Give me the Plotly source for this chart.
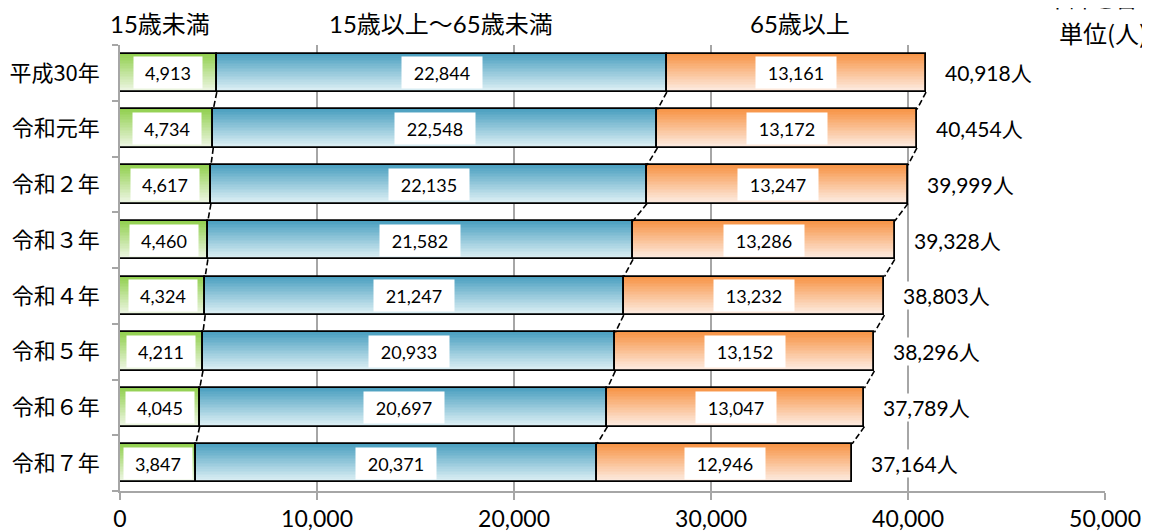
import plotly.graph_objects as go

# ---- data ----
years = ["平成30年", "令和元年", "令和２年", "令和３年", "令和４年", "令和５年", "令和６年", "令和７年"]
under15 = [4913, 4734, 4617, 4460, 4324, 4211, 4045, 3847]
working = [22844, 22548, 22135, 21582, 21247, 20933, 20697, 20371]
over65 = [13161, 13172, 13247, 13286, 13232, 13152, 13047, 12946]
totals = [40918, 40454, 39999, 39328, 38803, 38296, 37789, 37164]
headers = ["15歳未満", "15歳以上～65歳未満", "65歳以上"]
x_ticks = [0, 10000, 20000, 30000, 40000, 50000]

# ---- style ----
NUM_FONT = "Lato, 'Noto Sans CJK JP', sans-serif"
JP_FONT = "'Noto Sans CJK JP', Lato, sans-serif"
GRID = "#A6A6A6"
W = 0.69
N = 24
gradients = [
    ((146, 208, 80), (238, 246, 228)),
    ((75, 160, 192), (222, 240, 245)),
    ((247, 148, 70), (253, 236, 226)),
]

ypos = list(range(len(years)))
series = [under15, working, over65]
bases = []
run = [0] * len(years)
for s in series:
    bases.append(list(run))
    run = [r + v for r, v in zip(run, s)]
cum1 = bases[1]
cum2 = bases[2]
ends = run

def lerp(c1, c2, t):
    return "rgb(%d,%d,%d)" % tuple(round(a + (b - a) * t) for a, b in zip(c1, c2))

fig = go.Figure()

# gradient strips
for s, b, (ctop, cbot) in zip(series, bases, gradients):
    for k in range(N):
        t = k / (N - 1)
        fig.add_trace(go.Bar(
            y=ypos, x=s, base=b, orientation="h",
            offset=-W / 2 + k * W / N, width=W / N * 1.15 if k < N - 1 else W / N,
            marker=dict(color=lerp(ctop, cbot, t), line=dict(width=0)),
            hoverinfo="skip", showlegend=False,
        ))

# outlines
for s, b in zip(series, bases):
    fig.add_trace(go.Bar(
        y=ypos, x=s, base=b, orientation="h", offset=-W / 2, width=W,
        marker=dict(color="rgba(0,0,0,0)", line=dict(color="black", width=1.8)),
        hoverinfo="skip", showlegend=False,
    ))

# series (connector) lines
for bnd in [cum1, cum2, ends]:
    xs, ys = [], []
    for i in range(len(years) - 1):
        xs += [bnd[i], bnd[i + 1], None]
        ys += [i + W / 2, i + 1 - W / 2, None]
    fig.add_trace(go.Scatter(
        x=xs, y=ys, mode="lines",
        line=dict(color="black", width=1.6, dash="6px,3px"),
        hoverinfo="skip", showlegend=False,
    ))

annotations = []
# data labels
for s, b in zip(series, bases):
    for i, (v, bb) in enumerate(zip(s, b)):
        txt = f"{v:,}"
        annotations.append(dict(
            x=bb + v / 2, y=i, xref="x", yref="y", text=txt, showarrow=False,
            font=dict(family=NUM_FONT, size=18, color="black"),
            bgcolor="white", width=64 if len(txt) <= 5 else 76, height=27, borderpad=2,
        ))
# totals
for i, t in enumerate(totals):
    annotations.append(dict(
        x=t, y=i, xref="x", yref="y", text=f"{t:,}人", showarrow=False,
        xanchor="left", xshift=17,
        font=dict(family=NUM_FONT, size=21, color="black"),
        bgcolor="white", borderpad=1,
    ))

# headers (pixel layout in the window: plot area x 120..1105, y 45..491)
def px(xp):
    return (xp - 120) / 985
def py(yp):
    return (491 - yp) / 446

for h, cx in zip(headers, [160, 441, 800]):
    annotations.append(dict(
        x=px(cx), y=py(23), xref="paper", yref="paper", text=h, showarrow=False,
        xanchor="center", yanchor="middle",
        font=dict(family=NUM_FONT, size=24, color="black"),
    ))
annotations.append(dict(
    x=px(1021), y=py(-3), xref="paper", yref="paper", text="※不詳を含まない", showarrow=False,
    xanchor="left", yanchor="middle", font=dict(family=JP_FONT, size=23, color="black"),
))
annotations.append(dict(
    x=px(1057), y=py(32), xref="paper", yref="paper", text="単位(人)", showarrow=False,
    xanchor="left", yanchor="middle", font=dict(family=JP_FONT, size=24, color="black"),
))

# the page body has an 8px margin, so the figure is offset by 8px in the window
fig.update_layout(
    width=1150, height=531,
    margin=dict(l=112, r=53, t=37, b=48, autoexpand=False),
    barmode="overlay", bargap=0,
    plot_bgcolor="white", paper_bgcolor="white",
    annotations=annotations,
    showlegend=False,
)
fig.update_xaxes(
    range=[0, 50000], tickvals=x_ticks, ticktext=[f"{v:,}" for v in x_ticks],
    showgrid=True, gridcolor=GRID, gridwidth=1.6, zeroline=False,
    showline=True, linecolor=GRID, linewidth=1.6,
    ticks="outside", ticklen=7, tickcolor=GRID, tickwidth=1.6,
    tickfont=dict(family=NUM_FONT, size=23, color="black"),
    automargin=False, fixedrange=True,
)
fig.update_yaxes(
    range=[len(years) - 0.5, -0.5], tickvals=ypos, ticktext=years,
    showgrid=False, zeroline=False,
    showline=True, linecolor=GRID, linewidth=1.6,
    ticks="", ticklabelstandoff=14,
    minor=dict(tickvals=[i - 0.5 for i in range(len(years) + 1)], ticks="outside",
               ticklen=6, tickcolor=GRID, tickwidth=1.6, showgrid=False),
    tickfont=dict(family=JP_FONT, size=22, color="black"),
    automargin=False, fixedrange=True,
)

fig.write_html("out.html")
